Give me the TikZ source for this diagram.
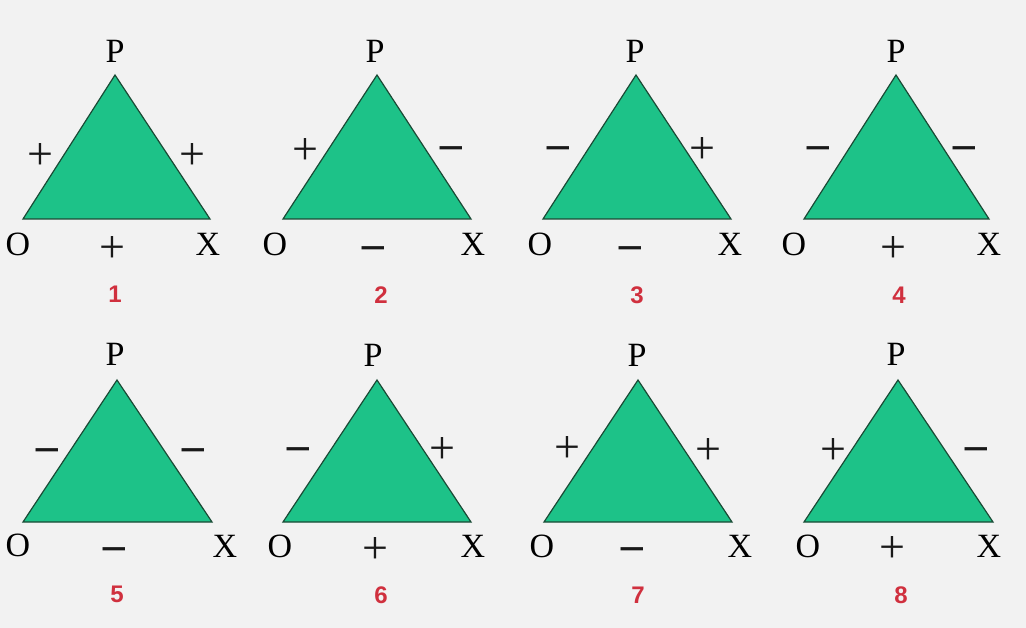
\documentclass[tikz,border=0pt]{standalone}
\usepackage{fontspec}
\usepackage{graphicx}
\setmainfont{Liberation Serif}
\setsansfont{Liberation Sans}
\definecolor{bgc}{HTML}{F2F2F2}
\definecolor{trifill}{HTML}{1DC288}
\definecolor{triline}{HTML}{1A4A35}
\definecolor{numred}{HTML}{D0303E}
\newcommand\pls{\fontsize{46}{50}\selectfont\raisebox{-0.37em}[0.25em][0.25em]{+}}
\newcommand\mns{\fontsize{46}{50}\selectfont\bfseries\raisebox{-0.35em}[0.1em][0.1em]{\scalebox{1.05}[1]{−}}}
\tikzset{
  tri/.style={fill=trifill, draw=triline, line width=1.2pt, line join=miter},
  lbl/.style={inner sep=0pt, font=\fontsize{34}{38}\selectfont},
  sgn/.style={inner sep=0pt, text=black!90},
  num/.style={inner sep=0pt, text=numred, font=\sffamily\bfseries\fontsize{24}{28}\selectfont}
}
\begin{document}
\begin{tikzpicture}[x=1pt,y=-1pt]
\fill[bgc] (0,0) rectangle (1026,628);
\useasboundingbox (0,0) rectangle (1026,628);
% ---------- Triangle 1
\coordinate (p1) at (115,75); \coordinate (o1) at (23,219); \coordinate (x1) at (210,219);
\draw[tri] (o1) -- (p1) -- (x1) -- cycle;
\node[lbl] (P1) at (115,51) {P};
\node[lbl] (O1) at (18,244) {O};
\node[lbl] (X1) at (208,244) {X};
\node[sgn] (b1) at (112,245) {\pls};
\node[sgn] (l1) at (40,152) {\pls};
\node[sgn] (r1) at (192,152) {\pls};
\node[num] (n1) at (115,294) {1};
% ---------- Triangle 2
\coordinate (p2) at (377,75); \coordinate (o2) at (283,219); \coordinate (x2) at (471,219);
\draw[tri] (o2) -- (p2) -- (x2) -- cycle;
\node[lbl] (P2) at (375,51) {P};
\node[lbl] (O2) at (275,244) {O};
\node[lbl] (X2) at (473,244) {X};
\node[sgn] (b2) at (373,247) {\mns};
\node[sgn] (l2) at (305,147) {\pls};
\node[sgn] (r2) at (451,147) {\mns};
\node[num] (n2) at (381,295) {2};
% ---------- Triangle 3
\coordinate (p3) at (636,75); \coordinate (o3) at (543,219); \coordinate (x3) at (731,219);
\draw[tri] (o3) -- (p3) -- (x3) -- cycle;
\node[lbl] (P3) at (635,51) {P};
\node[lbl] (O3) at (540,244) {O};
\node[lbl] (X3) at (730,244) {X};
\node[sgn] (b3) at (630,247) {\mns};
\node[sgn] (l3) at (558,147) {\mns};
\node[sgn] (r3) at (702,146) {\pls};
\node[num] (n3) at (637,295) {3};
% ---------- Triangle 4
\coordinate (p4) at (896,75); \coordinate (o4) at (804,219); \coordinate (x4) at (989,219);
\draw[tri] (o4) -- (p4) -- (x4) -- cycle;
\node[lbl] (P4) at (896,51) {P};
\node[lbl] (O4) at (794,244) {O};
\node[lbl] (X4) at (989,244) {X};
\node[sgn] (b4) at (893,245) {\pls};
\node[sgn] (l4) at (818,147) {\mns};
\node[sgn] (r4) at (964,147) {\mns};
\node[num] (n4) at (899,295) {4};
% ---------- Triangle 5
\coordinate (p5) at (117,380); \coordinate (o5) at (23,522); \coordinate (x5) at (212,522);
\draw[tri] (o5) -- (p5) -- (x5) -- cycle;
\node[lbl] (P5) at (115,354) {P};
\node[lbl] (O5) at (18,545) {O};
\node[lbl] (X5) at (225,546) {X};
\node[sgn] (b5) at (114,548) {\mns};
\node[sgn] (l5) at (47,449) {\mns};
\node[sgn] (r5) at (193,449) {\mns};
\node[num] (n5) at (117,594) {5};
% ---------- Triangle 6
\coordinate (p6) at (377,380); \coordinate (o6) at (283,522); \coordinate (x6) at (471,522);
\draw[tri] (o6) -- (p6) -- (x6) -- cycle;
\node[lbl] (P6) at (373,355) {P};
\node[lbl] (O6) at (280,546) {O};
\node[lbl] (X6) at (473,546) {X};
\node[sgn] (b6) at (375,546) {\pls};
\node[sgn] (l6) at (298,448) {\mns};
\node[sgn] (r6) at (442,446) {\pls};
\node[num] (n6) at (381,595) {6};
% ---------- Triangle 7
\coordinate (p7) at (638,380); \coordinate (o7) at (544,522); \coordinate (x7) at (732,522);
\draw[tri] (o7) -- (p7) -- (x7) -- cycle;
\node[lbl] (P7) at (637,355) {P};
\node[lbl] (O7) at (542,546) {O};
\node[lbl] (X7) at (740,546) {X};
\node[sgn] (b7) at (632,548) {\mns};
\node[sgn] (l7) at (567,445) {\pls};
\node[sgn] (r7) at (708,447) {\pls};
\node[num] (n7) at (638,595) {7};
% ---------- Triangle 8
\coordinate (p8) at (898,380); \coordinate (o8) at (804,522); \coordinate (x8) at (993,522);
\draw[tri] (o8) -- (p8) -- (x8) -- cycle;
\node[lbl] (P8) at (896,354) {P};
\node[lbl] (O8) at (808,546) {O};
\node[lbl] (X8) at (989,546) {X};
\node[sgn] (b8) at (892,545) {\pls};
\node[sgn] (l8) at (833,447) {\pls};
\node[sgn] (r8) at (976,448) {\mns};
\node[num] (n8) at (901,595) {8};
\end{tikzpicture}
\end{document}
